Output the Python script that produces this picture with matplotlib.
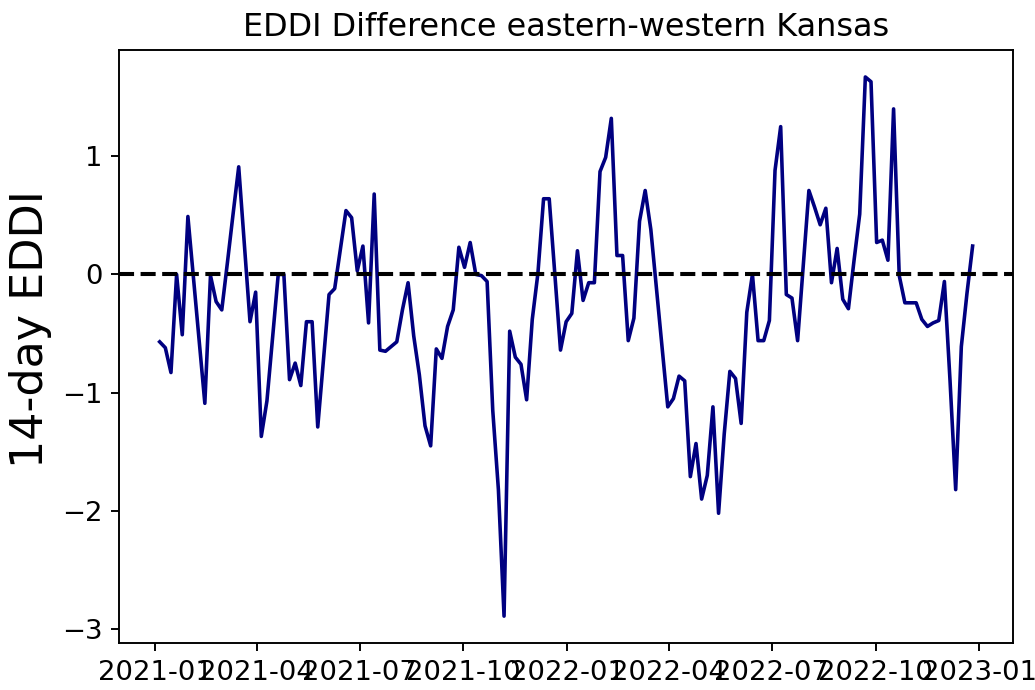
import matplotlib
matplotlib.use("Agg")
import matplotlib.pyplot as plt
import pandas as pd

title = "EDDI Difference eastern-western Kansas"
ylabel = "14-day EDDI"
start_date = "2021-01-05"
step = "5D"

eddi_diff = [
    -0.57, -0.62, -0.83, 0.00, -0.51, 0.49, -0.04, -0.56, -1.09, -0.01,
    -0.23, -0.30, 0.10, 0.51, 0.91, 0.25, -0.40, -0.15, -1.37, -1.07,
    -0.53, 0.00, 0.00, -0.89, -0.75, -0.94, -0.40, -0.40, -1.29, -0.73,
    -0.17, -0.12, 0.21, 0.54, 0.48, 0.03, 0.24, -0.41, 0.68, -0.64,
    -0.65, -0.61, -0.57, -0.30, -0.07, -0.52, -0.85, -1.28, -1.45, -0.63,
    -0.71, -0.44, -0.30, 0.23, 0.06, 0.27, 0.00, -0.01, -0.06, -1.15,
    -1.82, -2.89, -0.48, -0.70, -0.76, -1.06, -0.38, 0.01, 0.64, 0.64,
    0.00, -0.64, -0.40, -0.33, 0.20, -0.22, -0.07, -0.07, 0.87, 0.99,
    1.32, 0.16, 0.16, -0.56, -0.37, 0.45, 0.71, 0.38, -0.12, -0.62,
    -1.12, -1.05, -0.86, -0.90, -1.71, -1.43, -1.90, -1.70, -1.12, -2.02,
    -1.35, -0.82, -0.88, -1.26, -0.32, 0.00, -0.56, -0.56, -0.39, 0.88,
    1.25, -0.17, -0.20, -0.56, 0.07, 0.71, 0.57, 0.42, 0.56, -0.07,
    0.22, -0.21, -0.29, 0.12, 0.51, 1.67, 1.63, 0.27, 0.29, 0.12,
    1.40, -0.01, -0.24, -0.24, -0.24, -0.38, -0.44, -0.41, -0.39, -0.06,
    -0.90, -1.82, -0.61, -0.16, 0.24,
]

dates = pd.date_range(start=start_date, periods=len(eddi_diff), freq=step)

fig = plt.figure(figsize=(6, 4), dpi=172.5)
ax = fig.add_axes([0.115, 0.068, 0.864, 0.8595])

ax.plot(dates, eddi_diff, color="navy", linewidth=1.5)
ax.axhline(0, color="black", linestyle="--", linewidth=1.7)

ax.set_title(title, fontsize=13.3)
ax.set_ylabel(ylabel, fontsize=18.5, y=0.53)
ax.tick_params(axis="both", labelsize=11.5)

fig.savefig("out.png", dpi=172.5)
